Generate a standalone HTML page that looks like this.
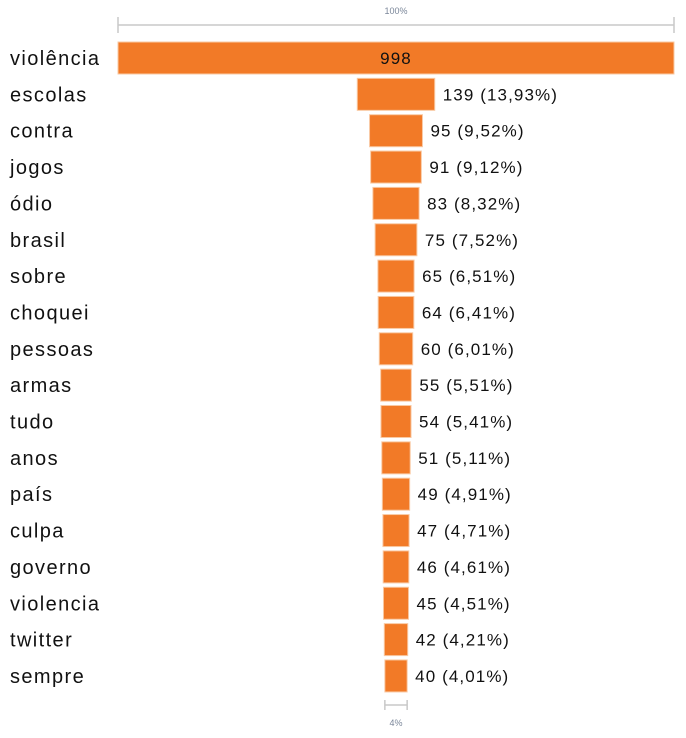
<!DOCTYPE html>
<html><head><meta charset="utf-8"><style>
body{margin:0;background:#fff;width:686px;height:733px;overflow:hidden;font-family:"Liberation Sans",sans-serif}
</style></head><body>
<svg width="686" height="733">
<g>
<line x1="118" y1="25" x2="674" y2="25" stroke="#c8c8c8" stroke-width="1.5"/>
<line x1="118" y1="17" x2="118" y2="33" stroke="#c8c8c8" stroke-width="1.5"/>
<line x1="674" y1="17" x2="674" y2="33" stroke="#c8c8c8" stroke-width="1.5"/>
<text x="396" y="14" text-anchor="middle" font-size="9" fill="#7a8699">100%</text>
</g>
<g id="rows"></g>
<g>
<line id="bl" y1="705" y2="705" stroke="#c8c8c8" stroke-width="1.5"/>
<line id="bl1" y1="700" y2="710" stroke="#c8c8c8" stroke-width="1.5"/>
<line id="bl2" y1="700" y2="710" stroke="#c8c8c8" stroke-width="1.5"/>
<text x="396" y="726" text-anchor="middle" font-size="9" fill="#7a8699">4%</text>
</g>
</svg>
<script>
const categories=["violência","escolas","contra","jogos","ódio","brasil","sobre","choquei","pessoas","armas","tudo","anos","país","culpa","governo","violencia","twitter","sempre"];
const values=[998,139,95,91,83,75,65,64,60,55,54,51,49,47,46,45,42,40];
const pctLabels=["","13,93%","9,52%","9,12%","8,32%","7,52%","6,51%","6,41%","6,01%","5,51%","5,41%","5,11%","4,91%","4,71%","4,61%","4,51%","4,21%","4,01%"];
const NS="http://www.w3.org/2000/svg";
const cx=396,fullW=556,top0=42,step=36.35,bh=32;
const maxV=Math.max(...values);
const w=v=>v/maxV*fullW;
const y=i=>top0+i*step;
const g=document.getElementById('rows');
categories.forEach((c,i)=>{
  const r=document.createElementNS(NS,'rect');
  const bw=w(values[i]);
  r.setAttribute('x',cx-bw/2);r.setAttribute('y',y(i));r.setAttribute('width',bw);r.setAttribute('height',bh);
  r.setAttribute('fill','#f27a27');r.setAttribute('stroke','#f9c9a3');r.setAttribute('stroke-width','1');
  
  
  g.appendChild(r);
  const t=document.createElementNS(NS,'text');
  t.setAttribute('x',10);t.setAttribute('y',y(i)+bh/2+7);t.setAttribute('font-size','20');t.setAttribute('fill','#111');
  t.setAttribute('letter-spacing','1.4');
  t.textContent=c;
  
  
  g.appendChild(t);
  const v=document.createElementNS(NS,'text');
  v.setAttribute('y',y(i)+bh/2+6);v.setAttribute('font-size','17');v.setAttribute('fill','#111');
  v.setAttribute('letter-spacing','1.1');
  if(i===0){v.setAttribute('x',cx);v.setAttribute('text-anchor','middle');v.textContent=values[i];}
  else{v.setAttribute('x',cx+bw/2+8);v.textContent=values[i]+' ('+pctLabels[i]+')';}
  
  
  g.appendChild(v);
});
const lw=w(values[values.length-1]);
const a=cx-lw/2,b=cx+lw/2;
const bl=document.getElementById('bl');bl.setAttribute('x1',a);bl.setAttribute('x2',b);
['bl1','bl2'].forEach((id,k)=>{const e=document.getElementById(id);e.setAttribute('x1',k?b:a);e.setAttribute('x2',k?b:a);});
</script>
</body></html>
